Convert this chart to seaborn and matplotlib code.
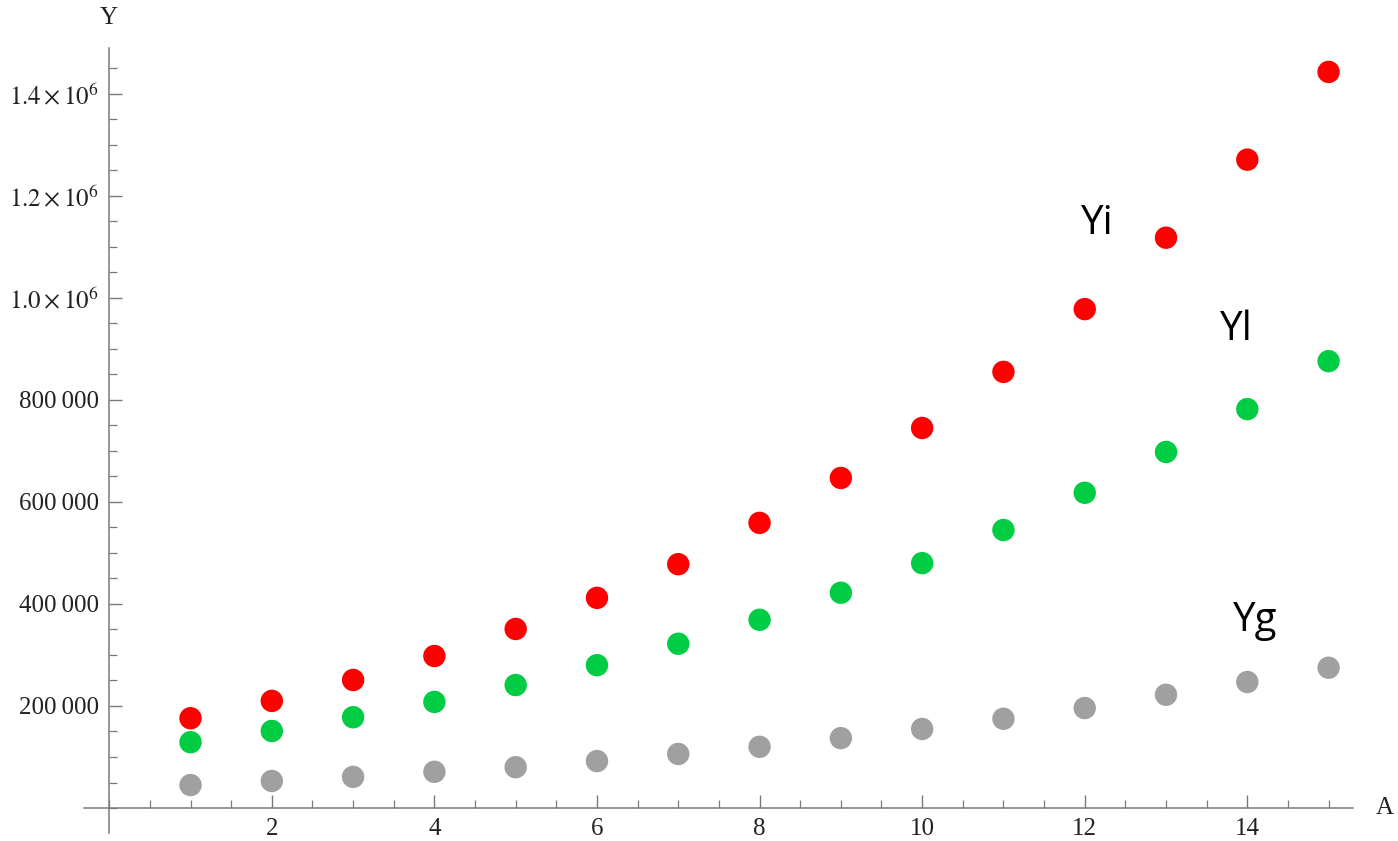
import numpy as np
import pandas as pd
import matplotlib
matplotlib.use("Agg")
import matplotlib.pyplot as plt
import seaborn as sns
from matplotlib.ticker import FixedLocator, MultipleLocator

# Series values
a_values = [1, 2, 3, 4, 5, 6, 7, 8, 9, 10, 11, 12, 13, 14, 15]
yi_values = [176000, 210000, 251000, 298000, 351000, 412000, 478000, 559000,
             647000, 745000, 855000, 978000, 1118000, 1271000, 1443000]
yl_values = [129000, 151000, 178000, 208000, 241000, 280000, 322000, 369000,
             422000, 480000, 545000, 618000, 698000, 782000, 876000]
yg_values = [45000, 53000, 61000, 71000, 80000, 92000, 106000, 120000,
             137000, 155000, 175000, 196000, 222000, 247000, 275000]

series_names = ["Yi", "Yl", "Yg"]
series_colors = {"Yi": "#FF0000", "Yl": "#00CC44", "Yg": "#A0A0A0"}

# Tick labels
x_ticks = [2, 4, 6, 8, 10, 12, 14]
x_tick_labels = ["2", "4", "6", "8", "10", "12", "14"]
y_ticks = [200000, 400000, 600000, 800000, 1000000, 1200000, 1400000]
y_tick_labels = ["200\u2009000", "400\u2009000", "600\u2009000", "800\u2009000",
                 r"$1.0\times10^{6}$", r"$1.2\times10^{6}$", r"$1.4\times10^{6}$"]

df = pd.DataFrame({
    "A": a_values * 3,
    "Y": yi_values + yl_values + yg_values,
    "series": [n for n in series_names for _ in a_values],
})

sns.set_theme(style="white")
plt.rcParams["font.family"] = ["Liberation Serif", "DejaVu Serif"]
plt.rcParams["mathtext.fontset"] = "stix"

fig = plt.figure(figsize=(13.98, 8.41), dpi=100)
ax = fig.add_axes([0.0601, 0.0095, 0.9077, 0.9335])

sns.scatterplot(data=df, x="A", y="Y", hue="series", palette=series_colors,
                s=260, linewidth=0, legend=False, ax=ax, zorder=3)

ax.set_xlim(-0.31, 15.3)
ax.set_ylim(-49000, 1490000)

for side in ["top", "right"]:
    ax.spines[side].set_visible(False)
for side in ["left", "bottom"]:
    ax.spines[side].set_position(("data", 0))
    ax.spines[side].set_color("#7a7a7a")
    ax.spines[side].set_linewidth(1.1)
ax.spines["left"].set_bounds(-49000, 1490000)
ax.spines["bottom"].set_bounds(-0.31, 15.3)

ax.xaxis.set_major_locator(FixedLocator(x_ticks))
ax.set_xticklabels(x_tick_labels)
ax.xaxis.set_minor_locator(MultipleLocator(0.5))
ax.yaxis.set_major_locator(FixedLocator(y_ticks))
ax.set_yticklabels(y_tick_labels)
ax.yaxis.set_minor_locator(MultipleLocator(50000))

ax.tick_params(axis="both", which="major", direction="in", length=9.5,
               width=1.0, color="#7a7a7a", labelsize=18, labelcolor="#222222")
ax.tick_params(axis="both", which="minor", direction="in", length=6,
               width=0.9, color="#7a7a7a")
ax.tick_params(axis="x", which="major", pad=7)
ax.tick_params(axis="y", which="major", pad=7)
ax.tick_params(axis="both", which="both", bottom=True, left=True)

ax.set_xlabel("")
ax.set_ylabel("")

# Axis names at the ends of the axes
fig.text(109 / 1398, 1 - 18 / 841, "Y", ha="center", va="center",
         fontsize=18, color="#222222")
fig.text(1385 / 1398, 1 - 808 / 841, "A", ha="center", va="center",
         fontsize=18, color="#222222")

# Series labels
label_pos = {"Yi": (12.15, 1145000), "Yl": (13.87, 937000), "Yg": (14.1, 367000)}
for name in series_names:
    lx, ly = label_pos[name]
    ax.text(lx, ly, name, ha="center", va="center", fontsize=29,
            family=["Open Sans", "DejaVu Sans"], color="black")

ax.set_facecolor("white")
fig.patch.set_facecolor("white")
fig.savefig("out.png", dpi=100, facecolor="white")
